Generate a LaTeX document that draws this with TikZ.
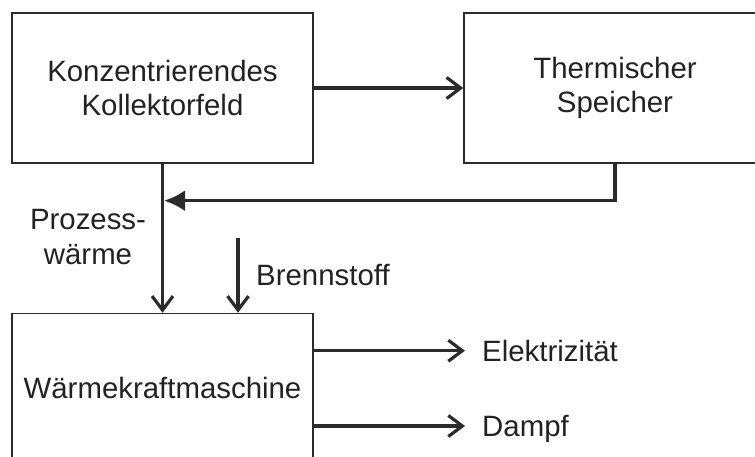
\documentclass[tikz,border=0pt]{standalone}
\usepackage{fontspec}
\setmainfont{Liberation Sans}
\usepackage{tikz}
\usetikzlibrary{arrows.meta}
\definecolor{linie}{HTML}{2B2B2B}
\definecolor{schrift}{HTML}{222222}

\begin{document}
\begin{tikzpicture}[
    x=1pt, y=1pt,
    >={Straight Barb[length=14pt,width=21pt]},
    font=\fontsize{29.4}{34.5}\selectfont,
    block/.style={
        draw=linie,
        line width=1.5pt,
        minimum width=301pt,
        minimum height=150pt,
        inner sep=0pt,
        align=center,
        text=schrift
    },
    beschriftung/.style={
        align=center,
        inner sep=0pt,
        text=schrift
    },
    ausgang/.style={
        anchor=west,
        inner xsep=17pt,
        inner ysep=0pt,
        text height=21pt,
        text depth=0pt,
        text=schrift
    },
    pfeil/.style={
        ->,
        line width=3.2pt,
        draw=linie
    }
]

\useasboundingbox (0,0) rectangle (755,456);

% ---------------- BLOECKE ----------------

\node[block] (kollektor) at (162.5,368) {Konzentrierendes\\Kollektorfeld};

\node[block, minimum width=302pt] (speicher) at (615,368) {Thermischer\\Speicher};

\node[block, minimum height=149pt] (maschine) at (162.5,68) {Wärmekraftmaschine};


% ---------------- TEXTE ----------------

\node[beschriftung] (prozess) at (88,219) {Prozess-\\wärme};

\node[beschriftung, anchor=base west] (brennstoff) at (256,171) {Brennstoff};

\node[ausgang] (elektrizitaet) at (465,105.3) {Elektrizität};

\node[ausgang] (dampf) at (465,30) {Dampf};


% ---------------- PFEILE ----------------

% Kollektorfeld -> Speicher
\draw[pfeil] (kollektor) -- (speicher);

% Rueckfuehrung vom Speicher
\coordinate (knick) at ([xshift=1.5pt]kollektor.south |- 0,255.3);
\draw[
    pfeil,
    -{Latex[length=21pt,width=21pt]}
] (speicher.south) |- (knick);

% Prozesswaerme
\draw[pfeil] (kollektor.south) -- (maschine.north);

% Brennstoff
\coordinate (brennstart) at (238,218);
\draw[pfeil] (brennstart) -- (brennstart |- maschine.north);

% Ausgaenge
\draw[pfeil] (maschine.east |- elektrizitaet.west) -- (elektrizitaet.west);
\draw[pfeil] (maschine.east |- dampf.west) -- (dampf.west);

\end{tikzpicture}
\end{document}
